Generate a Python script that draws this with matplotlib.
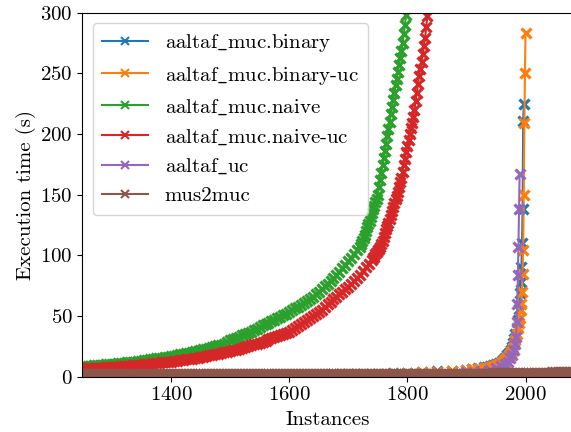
import numpy as np
import matplotlib
matplotlib.use("Agg")
import matplotlib.pyplot as plt
from matplotlib.lines import Line2D

plt.rcParams['font.family'] = ['cmr10', 'DejaVu Serif']
plt.rcParams['mathtext.fontset'] = 'cm'
plt.rcParams['axes.formatter.use_mathtext'] = True
plt.rcParams['font.size'] = 15

labels = ["aaltaf_muc.binary", "aaltaf_muc.binary-uc", "aaltaf_muc.naive",
          "aaltaf_muc.naive-uc", "aaltaf_uc", "mus2muc"]
colors = ["#1f77b4", "#ff7f0e", "#2ca02c", "#d62728", "#9467bd", "#8c564b"]

# aaltaf_muc.naive (green): instances 1250..1715 step 5, then 1720..1800 step 2
naive_x = list(range(1250, 1716, 5)) + list(range(1720, 1801, 2))
naive_t = [8.5, 8.7, 8.9, 9.1, 9.3, 9.5, 9.7, 9.9, 10.1, 10.3,
           10.5, 10.7, 11.0, 11.2, 11.5, 11.7, 12.0, 12.2, 12.5, 12.7,
           13.0, 13.4, 13.8, 14.2, 14.6, 15.0, 15.4, 15.8, 16.2, 16.6,
           17.0, 17.4, 17.9, 18.4, 18.9, 19.4, 19.9, 20.4, 20.9, 21.4,
           22.0, 22.6, 23.2, 23.8, 24.4, 25.1, 25.8, 26.5, 27.2, 28.6,
           30.0, 31.0, 32.0, 33.0, 34.0, 35.0, 36.1, 37.2, 38.4, 39.6,
           41.0, 42.2, 43.4, 44.6, 45.8, 47.0, 48.2, 49.4, 50.6, 51.8,
           53.0, 54.6, 56.2, 57.8, 59.4, 61.0, 62.6, 64.2, 65.8, 67.8,
           70.0, 72.2, 74.4, 76.6, 79.0, 81.5, 84.0, 86.5, 89.2, 92.0,
           95.0, 98.0, 101.0, 104.0,
           107.0, 109.5, 112.0, 114.5, 117.0, 120.0, 123.0, 125.5, 128.5, 131.5,
           135.0, 138.0, 140.5, 143.5, 146.5, 150.0, 156.0, 162.0, 168.0, 174.0,
           180.0, 186.0, 192.0, 198.0, 204.0, 210.0, 216.0, 222.0, 228.0, 234.0,
           240.0, 245.5, 251.0, 257.0, 262.5, 268.0, 275.0, 282.0, 290.0, 298.0,
           306.0]

# aaltaf_muc.naive-uc (red): instances 1250..1735 step 5, then 1740..1840 step 2
naiveuc_x = list(range(1250, 1736, 5)) + list(range(1740, 1841, 2))
naiveuc_t = [6.5, 6.6, 6.8, 6.9, 7.1, 7.2, 7.4, 7.5, 7.7, 7.8,
             8.0, 8.2, 8.4, 8.6, 8.8, 9.0, 9.2, 9.4, 9.6, 9.8,
             10.0, 10.2, 10.5, 10.7, 11.0, 11.2, 11.5, 11.7, 12.0, 12.2,
             12.5, 12.8, 13.2, 13.5, 13.9, 14.2, 14.6, 14.9, 15.3, 15.6,
             16.0, 16.5, 17.0, 17.5, 18.0, 18.5, 19.0, 19.5, 20.0, 20.5,
             21.0, 21.7, 22.4, 23.1, 23.8, 24.5, 25.2, 25.9, 26.6, 27.3,
             28.0, 28.9, 29.8, 30.7, 31.6, 32.5, 33.4, 34.3, 35.2, 36.1,
             37.0, 38.6, 40.2, 41.8, 43.4, 45.0, 46.6, 48.2, 49.8, 51.4,
             53.0, 55.2, 57.4, 59.6, 61.8, 64.0, 66.0, 68.0, 70.0, 72.0,
             74.0, 76.5, 79.0, 81.5, 84.0, 87.0, 90.0, 93.0,
             96.0, 97.5, 99.0, 101.0, 102.5, 104.0, 105.5, 107.0, 109.5, 112.0,
             115.0, 118.0, 121.5, 124.5, 127.0, 130.0, 133.0, 136.5, 139.5, 143.0,
             146.0, 149.0, 152.5, 156.0, 160.0, 164.0, 169.0, 174.5, 179.5, 185.0,
             190.0, 195.0, 200.0, 204.5, 209.0, 214.0, 220.0, 227.0, 233.5, 241.0,
             248.0, 253.5, 259.0, 265.5, 272.0, 279.0, 288.0, 297.5, 307.0, 316.0,
             325.0]

# aaltaf_muc.binary (blue)
binary_x = [1250, 1275, 1300, 1325, 1350, 1375, 1400, 1425, 1450, 1475,
            1500, 1525, 1550, 1575, 1600, 1625, 1650, 1675, 1700, 1725,
            1750, 1775, 1800, 1825, 1850, 1875, 1900, 1910, 1920, 1930,
            1935, 1940, 1945, 1950, 1955, 1960, 1963, 1966, 1969, 1972,
            1975, 1977, 1979, 1981, 1983, 1985, 1987, 1989, 1991, 1992,
            1993, 1994, 1995, 1996, 1997]
binary_t = [0.8, 0.85, 0.9, 0.95, 1.0, 1.05, 1.1, 1.15, 1.2, 1.3,
            1.35, 1.4, 1.5, 1.55, 1.6, 1.7, 1.8, 1.9, 2.0, 2.2,
            2.4, 2.8, 3.2, 3.7, 4.3, 5.0, 5.8, 6.3, 6.9, 7.6,
            8.1, 8.8, 9.6, 10.5, 11.6, 13.0, 14.2, 15.8, 17.5, 19.6,
            22.0, 24.5, 27.5, 31.0, 35.0, 40.0, 47.0, 56.0, 69.0, 78.0,
            90.0, 110.0, 138.0, 211.0, 225.0]

# aaltaf_muc.binary-uc (orange)
binaryuc_x = [1250, 1275, 1300, 1325, 1350, 1375, 1400, 1425, 1450, 1475,
              1500, 1525, 1550, 1575, 1600, 1625, 1650, 1675, 1700, 1725,
              1750, 1775, 1800, 1825, 1850, 1875, 1900, 1910, 1920, 1930,
              1935, 1940, 1945, 1950, 1955, 1960, 1963, 1966, 1969, 1972,
              1975, 1977, 1979, 1981, 1983, 1985, 1987, 1989, 1990, 1992,
              1993, 1994, 1995, 1996, 1997, 1998, 1999, 2000]
binaryuc_t = [0.7, 0.75, 0.8, 0.85, 0.9, 0.95, 1.0, 1.05, 1.1, 1.2,
              1.25, 1.3, 1.4, 1.45, 1.5, 1.6, 1.7, 1.8, 1.9, 2.1,
              2.3, 2.6, 3.0, 3.5, 4.1, 4.8, 5.6, 6.0, 6.5, 7.0,
              7.5, 8.2, 9.0, 9.8, 10.8, 12.0, 13.0, 14.3, 15.8, 17.5,
              19.5, 21.5, 24.0, 27.0, 30.5, 35.0, 40.0, 44.0, 48.0, 55.0,
              60.0, 70.0, 85.0, 104.0, 150.0, 209.0, 250.0, 283.0]

# aaltaf_uc (purple)
uc_x = [1250, 1300, 1350, 1400, 1450, 1500, 1550, 1600, 1650, 1700,
        1750, 1800, 1850, 1900, 1925, 1940, 1950, 1958, 1965, 1970,
        1974, 1977, 1980, 1982, 1984, 1985, 1986, 1987, 1988, 1989,
        1990]
uc_t = [0.5, 0.55, 0.6, 0.65, 0.7, 0.75, 0.8, 0.9, 1.0, 1.1,
        1.3, 1.6, 2.2, 3.5, 4.5, 5.8, 7.0, 8.5, 10.5, 12.5,
        15.0, 18.0, 22.0, 27.0, 33.0, 45.0, 60.0, 84.0, 107.0, 138.0,
        167.0]

# mus2muc (brown): instances 1250..2080 step 5
mus_x = list(range(1250, 2081, 5))
mus_t = [1.9, 1.9, 1.9, 1.9, 1.9, 1.9, 1.9, 1.9, 1.9, 1.9,
         1.9, 1.9, 1.9, 1.9, 1.9, 1.9, 1.9, 1.9, 1.9, 1.9,
         1.9, 1.9, 1.9, 1.9, 1.9, 1.9, 1.9, 1.9, 1.9, 1.9,
         1.9, 1.9, 1.95, 1.95, 1.95, 1.95, 1.95, 1.95, 1.95, 1.95,
         1.95, 1.95, 1.95, 1.95, 1.95, 1.95, 1.95, 1.95, 1.95, 1.95,
         1.95, 1.95, 1.95, 1.95, 1.95, 1.95, 1.95, 1.95, 1.95, 1.95,
         1.95, 1.95, 1.95, 1.95, 1.95, 1.95, 1.95, 1.95, 1.95, 1.95,
         2.0, 2.0, 2.0, 2.0, 2.0, 2.0, 2.0, 2.0, 2.0, 2.0,
         2.0, 2.0, 2.0, 2.0, 2.0, 2.0, 2.0, 2.0, 2.0, 2.0,
         2.05, 2.05, 2.05, 2.05, 2.05, 2.05, 2.05, 2.05, 2.05, 2.05,
         2.05, 2.05, 2.05, 2.05, 2.05, 2.1, 2.1, 2.1, 2.1, 2.1,
         2.1, 2.1, 2.15, 2.15, 2.15, 2.15, 2.2, 2.2, 2.2, 2.2,
         2.25, 2.25, 2.25, 2.3, 2.3, 2.3, 2.35, 2.35, 2.35, 2.4,
         2.4, 2.45, 2.45, 2.5, 2.5, 2.55, 2.55, 2.6, 2.6, 2.65,
         2.7, 2.72, 2.75, 2.8, 2.82, 2.85, 2.9, 2.92, 2.95, 3.0,
         3.05, 3.1, 3.15, 3.2, 3.25, 3.3, 3.35, 3.4, 3.45, 3.5,
         3.55, 3.6, 3.65, 3.7, 3.75, 3.8, 3.85]

series = [(binary_x, binary_t), (binaryuc_x, binaryuc_t), (naive_x, naive_t),
          (naiveuc_x, naiveuc_t), (uc_x, uc_t), (mus_x, mus_t)]


def tex_label(s):
    # render underscores as a LaTeX-style low line
    return s.replace("_", r"$\_$")


fig = plt.figure(figsize=(5.71, 4.32), dpi=100)
ax = fig.add_axes([82.3 / 571, 1 - 376.7 / 432, (574 - 82.3) / 571, (376.7 - 12.5) / 432])

handles = []
for (xs, ts), lab, col in zip(series, labels, colors):
    ax.plot(xs, ts, marker='x', color=col, lw=1.5, ms=7, mew=2.3)
    handles.append(Line2D([], [], marker='x', color=col, lw=1.5, ms=6, mew=1.5,
                          label=tex_label(lab)))

ax.set_xlim(1250, 2082)
ax.set_ylim(0, 300)
ax.set_xticks([1400, 1600, 1800, 2000])
ax.set_yticks([0, 50, 100, 150, 200, 250, 300])
ax.set_xlabel("Instances", labelpad=5)
ax.set_ylabel("Execution time (s)", labelpad=3)
leg = ax.legend(handles=handles, loc='upper left', fontsize=15, borderaxespad=0.5,
                handlelength=2.2, labelspacing=0.5, borderpad=0.45)

fig.savefig("out.png", dpi=100)
